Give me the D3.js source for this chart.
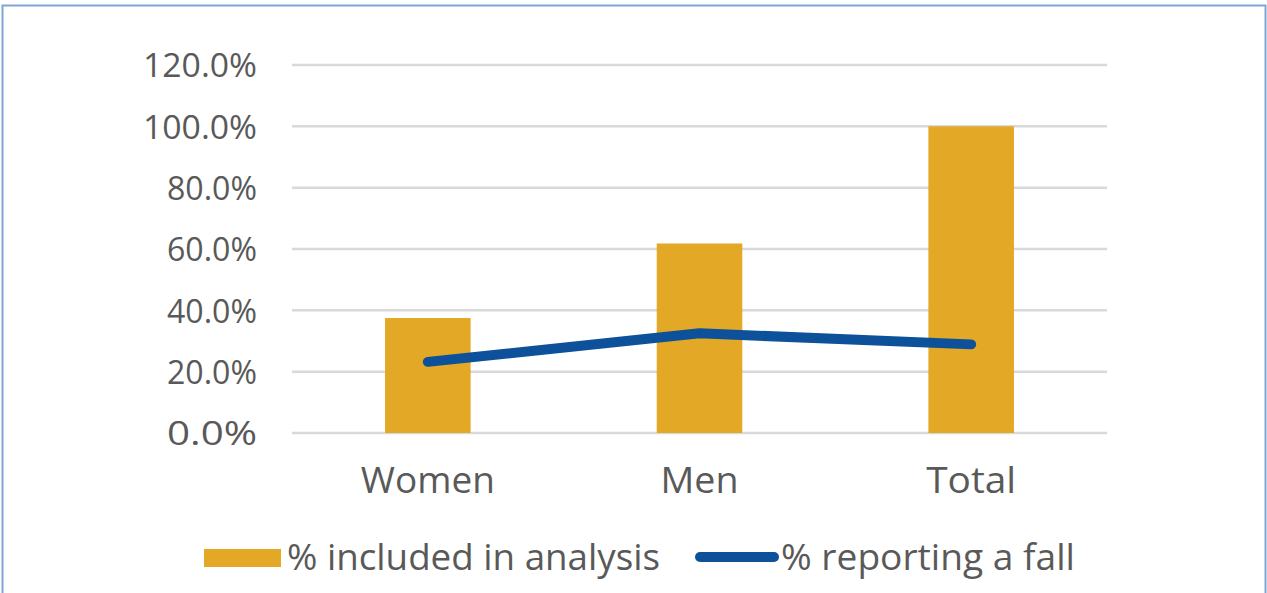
<!DOCTYPE html>
<html>
<head>
<meta charset="utf-8">
<script src="https://cdn.jsdelivr.net/npm/d3@7/dist/d3.min.js"></script>
<style>
  html, body { margin: 0; padding: 0; background: #fff; }
  svg { display: block; }
  text { font-family: "Open Sans", "DejaVu Sans", sans-serif; fill: #595959; }
</style>
</head>
<body>
<svg id="chart" width="1267" height="593"></svg>
<script>
const categories = ["Women", "Men", "Total"];
const includedValues = [0.375, 0.618, 1.0];
const fallValues = [0.232, 0.325, 0.289];
const yTicks = [0, 0.2, 0.4, 0.6, 0.8, 1.0, 1.2];
const seriesNames = ["% included in analysis", "% reporting a fall"];

const svg = d3.select("#chart");
const W = 1267, H = 593;
svg.append("rect").attr("width", W).attr("height", H).attr("fill", "#fff");

// frame
svg.append("path")
  .attr("d", `M2.5,${H} V5.5 H1265.5 V${H}`)
  .attr("fill", "none").attr("stroke", "#7fa6d3").attr("stroke-width", 2);

const x = d3.scaleBand().domain(categories).range([292, 1107])
  .paddingInner(0.685).paddingOuter(0.3425);
const y = d3.scaleLinear().domain([0, 1.2]).range([433, 65]);

// gridlines
svg.append("g").selectAll("line").data(yTicks).join("line")
  .attr("x1", 292).attr("x2", 1107)
  .attr("y1", d => y(d)).attr("y2", d => y(d))
  .attr("stroke", "#d9d9d9").attr("stroke-width", 2.5);

// y axis labels
const yAxis = d3.axisLeft(y).tickValues(yTicks).tickFormat(d3.format(".1%")).tickSize(0).tickPadding(0);
const ga = svg.append("g").attr("transform", "translate(257,0)").call(yAxis);
ga.select(".domain").remove();
ga.selectAll("text")
  .attr("font-size", 33).attr("fill", "#595959")
  .attr("font-family", "'Open Sans', 'DejaVu Sans', sans-serif")
  .attr("dy", "0.36em")
  .attr("textLength", d => d >= 1 ? 114 : 90)
  .attr("lengthAdjust", "spacingAndGlyphs");

// bars
svg.append("g").selectAll("rect").data(categories).join("rect")
  .attr("x", d => x(d)).attr("width", x.bandwidth())
  .attr("y", (d, i) => y(includedValues[i]))
  .attr("height", (d, i) => y(0) - y(includedValues[i]))
  .attr("fill", "#e2a826");

// line
const line = d3.line().x((d, i) => x(categories[i]) + x.bandwidth() / 2).y(d => y(d));
svg.append("path").datum(fallValues).attr("d", line)
  .attr("fill", "none").attr("stroke", "#0d519b").attr("stroke-width", 10)
  .attr("stroke-linecap", "round").attr("stroke-linejoin", "round");

// x axis labels
const xAxis = d3.axisBottom(x).tickSize(0).tickPadding(0);
const gx = svg.append("g").attr("transform", "translate(0,493)").call(xAxis);
gx.select(".domain").remove();
const catLen = {"Women": 134, "Men": 78, "Total": 90};
gx.selectAll("text")
  .attr("font-size", 36).attr("fill", "#595959").attr("dy", 0)
  .attr("font-family", "'Open Sans', 'DejaVu Sans', sans-serif")
  .attr("textLength", d => catLen[d])
  .attr("lengthAdjust", "spacingAndGlyphs");

// legend
const lg = svg.append("g");
lg.append("rect").attr("x", 204).attr("y", 549).attr("width", 77).attr("height", 18).attr("fill", "#e2a826");
lg.append("text").attr("x", 287).attr("y", 570).attr("font-size", 36)
  .attr("textLength", 373).attr("lengthAdjust", "spacingAndGlyphs").text(seriesNames[0]);
lg.append("line").attr("x1", 700).attr("x2", 774).attr("y1", 557).attr("y2", 557)
  .attr("stroke", "#0d519b").attr("stroke-width", 10).attr("stroke-linecap", "round");
lg.append("text").attr("x", 781).attr("y", 570).attr("font-size", 36)
  .attr("textLength", 294).attr("lengthAdjust", "spacingAndGlyphs").text(seriesNames[1]);
</script>
</body>
</html>
